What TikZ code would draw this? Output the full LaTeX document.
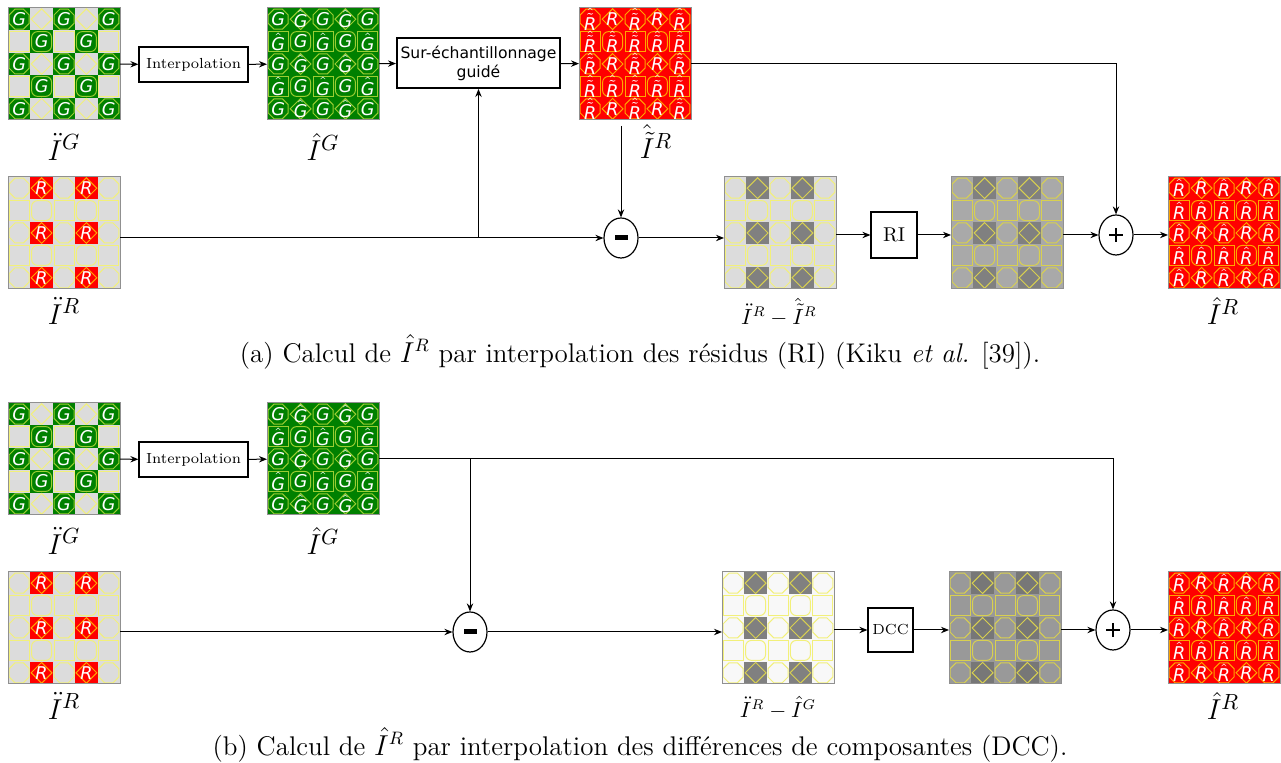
\documentclass[tikz,border=0pt]{standalone}
\usepackage{fontspec}
\usetikzlibrary{arrows.meta,shapes.geometric}
\newfontfamily\cellfont{DejaVu Sans}
\definecolor{cG}{HTML}{008000}\definecolor{cGO}{HTML}{9ACD32}
\definecolor{cL}{HTML}{DCDCDC}\definecolor{cLO}{HTML}{F2F07A}
\definecolor{cR}{HTML}{FF0000}\definecolor{cRO}{HTML}{FFA500}
\definecolor{cK}{HTML}{808080}\definecolor{cKO}{HTML}{D8D050}
\definecolor{cM}{HTML}{A9A9A9}\definecolor{cMO}{HTML}{D8D050}
\definecolor{cW}{HTML}{F8F8F8}\definecolor{cWO}{HTML}{F2F07A}
\definecolor{cN}{HTML}{999999}\definecolor{cNO}{HTML}{D8D050}
\definecolor{cD}{HTML}{777777}\definecolor{cDO}{HTML}{D8D050}
\definecolor{frame}{HTML}{909090}
\newcommand\setgrid[8]{\def\gfillO{#1}\def\gfillD{#2}\def\gfillS{#3}\def\gfillQ{#4}%
  \def\gtextO{#5}\def\gtextD{#6}\def\gtextS{#7}\def\gtextQ{#8}}
\newcommand\tG{G}
\newcommand\tGh{$\hat{\hbox{G}}$}
\newcommand\tR{R}
\newcommand\tRh{$\hat{\hbox{R}}$}
\newcommand\tRht{$\hat{\tilde{\hbox{R}}}$}
\def\gdrawO{\draw[draw=\go,line width=0.5pt] (\gcx+10,\gcy-4.2) -- (\gcx+10,\gcy+4.2) -- (\gcx+4.2,\gcy+10) -- (\gcx-4.2,\gcy+10) -- (\gcx-10,\gcy+4.2) -- (\gcx-10,\gcy-4.2) -- (\gcx-4.2,\gcy-10) -- (\gcx+4.2,\gcy-10) -- cycle;}
\def\gdrawD{\draw[draw=\go,line width=0.5pt] (\gcx,\gcy-10.4) -- (\gcx+10.4,\gcy) -- (\gcx,\gcy+10.4) -- (\gcx-10.4,\gcy) -- cycle;}
\def\gdrawS{\draw[draw=\go,line width=0.5pt] (\gcx-10,\gcy-10) rectangle (\gcx+10,\gcy+10);}
\def\gdrawQ{\draw[draw=\go,line width=0.5pt,rounded corners=3pt] (\gcx-10,\gcy-10) rectangle (\gcx+10,\gcy+10);}
\newcommand\gcell[1]{%
  \edef\gf{\csname gfill#1\endcsname}\edef\go{\csname gfill#1\endcsname O}%
  \fill[fill=\gf] (\gcx-11.25,\gcy-11.25) rectangle (\gcx+11.25,\gcy+11.25);
  \csname gdraw#1\endcsname
  \node[celltext] at (\gcx,\gcy) {\csname gtext#1\endcsname};}
\newcommand\drawgrid[3]{%
  \begin{scope}[shift={(#2,#3)}]
  \foreach \j in {0,...,4}{\foreach \i in {0,...,4}{%
    \pgfmathsetmacro\gcx{11.2+22.4*\i}\pgfmathsetmacro\gcy{11.2+22.4*\j}%
    \ifodd\j\relax\ifodd\i\relax\gcell{Q}\else\gcell{S}\fi
    \else\ifodd\i\relax\gcell{D}\else\gcell{O}\fi\fi}}
  \end{scope}
  \node[gridframe,anchor=north west] (#1) at (#2,#3) {};}
\begin{document}
\begin{tikzpicture}[x=0.5pt,y=-0.5pt,
  celltext/.style={text=white,inner sep=0pt,font=\cellfont\itshape\fontsize{8.8}{9}\selectfont},
  gridframe/.style={draw=frame,line width=0.5pt,minimum width=56pt,minimum height=56pt,inner sep=0pt,outer sep=0pt},
  arr/.style={-{Stealth[length=4pt,width=3.2pt]},line width=0.5pt},
  procbox/.style={draw,line width=0.6pt,inner sep=0pt,font=\fontsize{7.3}{9}\selectfont},
  opnode/.style={draw,ellipse,line width=0.6pt,minimum width=17pt,minimum height=20pt,inner sep=0pt},
  biglbl/.style={font=\fontsize{15}{16}\selectfont,inner sep=0pt},
  smalllbl/.style={font=\fontsize{10.5}{12}\selectfont,inner sep=0pt},
  caption/.style={font=\fontsize{13.5}{15}\selectfont,inner sep=0pt}]
\useasboundingbox (0,0) rectangle (1281,763);
% ---------- (a) ----------
\setgrid{cG}{cL}{cL}{cG}{\tG}{}{}{\tG}\drawgrid{g1}{8}{8}
\setgrid{cG}{cG}{cG}{cG}{\tG}{\tGh}{\tGh}{\tG}\drawgrid{g2}{267}{8}
\setgrid{cR}{cR}{cR}{cR}{\tRht}{\tR}{\tRht}{\tRht}\drawgrid{g3}{579}{8}
\setgrid{cL}{cR}{cL}{cL}{}{\tR}{}{}\drawgrid{g4}{8}{177}
\setgrid{cL}{cK}{cL}{cL}{}{}{}{}\drawgrid{g5}{724}{177}
\setgrid{cM}{cK}{cM}{cM}{}{}{}{}\drawgrid{g6}{951}{177}
\setgrid{cR}{cR}{cR}{cR}{\tRh}{\tR}{\tRh}{\tRh}\drawgrid{g7}{1168}{177}
\node[procbox,minimum width=54.5pt,minimum height=17.5pt] (interpA) at (193.5,64.5) {Interpolation};
\node[draw,line width=1pt,minimum width=81.5pt,minimum height=25pt,inner sep=0pt,align=center,
  font=\cellfont\fontsize{7.8}{9.5}\selectfont] (sur) at (478.5,63) {Sur-échantillonnage\\guidé};
\node[opnode] (minusA) at (621,238) {};
\fill (minusA.center) ++(-6.5,-2.5) rectangle ++(13,5);
\node[procbox,minimum width=23pt,minimum height=23pt,font=\fontsize{10}{11}\selectfont] (RI) at (894,235) {RI};
\node[opnode] (plusA) at (1116,235) {};
\draw[line width=0.7pt] (plusA.center) ++(-7,0) -- ++(14,0) (plusA.center) ++(0,-7) -- ++(0,14);
\coordinate (sA) at (621,126);
\draw[arr] (g1) -- (interpA);
\draw[arr] (interpA) -- (g2);
\draw[arr] (g2) -- (sur);
\draw[arr] (sur) -- (g3);
\draw[arr] (g3.east) -| (plusA.north);
\draw[arr] (sA) -- (minusA.north);
\draw[arr] (g4.east |- minusA) -- (minusA.west);
\draw[arr] (sur.south |- minusA) -- (sur.south);
\draw[arr] (minusA.east) -- (minusA -| g5.west);
\draw[arr] (g5.east |- RI) -- (RI.west);
\draw[arr] (RI.east) -- (RI -| g6.west);
\draw[arr] (g6.east |- plusA) -- (plusA.west);
\draw[arr] (plusA.east) -- (plusA -| g7.west);
\node[biglbl] (l1) at (64,147) {$\ddot{I}^G$};
\node[biglbl] (l2) at (323,147) {$\hat{I}^G$};
\node[biglbl] (l3) at (656,142) {$\hat{\tilde{I}}\vphantom{I}^R$};
\node[biglbl] (l4) at (64,311) {$\ddot{I}^R$};
\node[smalllbl] (l5) at (779,312) {$\ddot{I}^R-\hat{\tilde{I}}\vphantom{I}^R$};
\node[biglbl] (l7) at (1223,311) {$\hat{I}^R$};
\node[caption] (capA) at (640,352) {(a) Calcul de $\hat{I}^R$ par interpolation des résidus (RI) (Kiku \textit{et al.} [39]).};
% ---------- (b) ----------
\setgrid{cG}{cL}{cL}{cG}{\tG}{}{}{\tG}\drawgrid{h1}{8}{403}
\setgrid{cG}{cG}{cG}{cG}{\tG}{\tGh}{\tGh}{\tG}\drawgrid{h2}{267}{403}
\setgrid{cL}{cR}{cL}{cL}{}{\tR}{}{}\drawgrid{h4}{8}{572}
\setgrid{cW}{cK}{cW}{cW}{}{}{}{}\drawgrid{h5}{722}{572}
\setgrid{cN}{cD}{cN}{cN}{}{}{}{}\drawgrid{h6}{949}{572}
\setgrid{cR}{cR}{cR}{cR}{\tRh}{\tR}{\tRh}{\tRh}\drawgrid{h7}{1168}{572}
\node[procbox,minimum width=54.5pt,minimum height=17.5pt] (interpB) at (193.5,459.5) {Interpolation};
\node[opnode] (minusB) at (470,632) {};
\fill (minusB.center) ++(-6.5,-2.5) rectangle ++(13,5);
\node[procbox,minimum width=22.5pt,minimum height=22pt] (DCC) at (890.5,630) {DCC};
\node[opnode] (plusB) at (1113,630) {};
\draw[line width=0.7pt] (plusB.center) ++(-7,0) -- ++(14,0) (plusB.center) ++(0,-7) -- ++(0,14);
\draw[arr] (h1) -- (interpB);
\draw[arr] (interpB) -- (h2);
\draw[arr] (h2.east) -| (plusB.north);
\draw[arr] (minusB.north |- h2.east) -- (minusB.north);
\draw[arr] (h4.east |- minusB) -- (minusB.west);
\draw[arr] (minusB.east) -- (minusB -| h5.west);
\draw[arr] (h5.east |- DCC) -- (DCC.west);
\draw[arr] (DCC.east) -- (DCC -| h6.west);
\draw[arr] (h6.east |- plusB) -- (plusB.west);
\draw[arr] (plusB.east) -- (plusB -| h7.west);
\node[biglbl] (m1) at (64,541) {$\ddot{I}^G$};
\node[biglbl] (m2) at (323,541) {$\hat{I}^G$};
\node[biglbl] (m4) at (64,706) {$\ddot{I}^R$};
\node[smalllbl] (m5) at (778,708) {$\ddot{I}^R-\hat{I}^G$};
\node[biglbl] (m7) at (1223,706) {$\hat{I}^R$};
\node[caption] (capB) at (640,745) {(b) Calcul de $\hat{I}^R$ par interpolation des différences de composantes (DCC).};
\end{tikzpicture}
\end{document}
